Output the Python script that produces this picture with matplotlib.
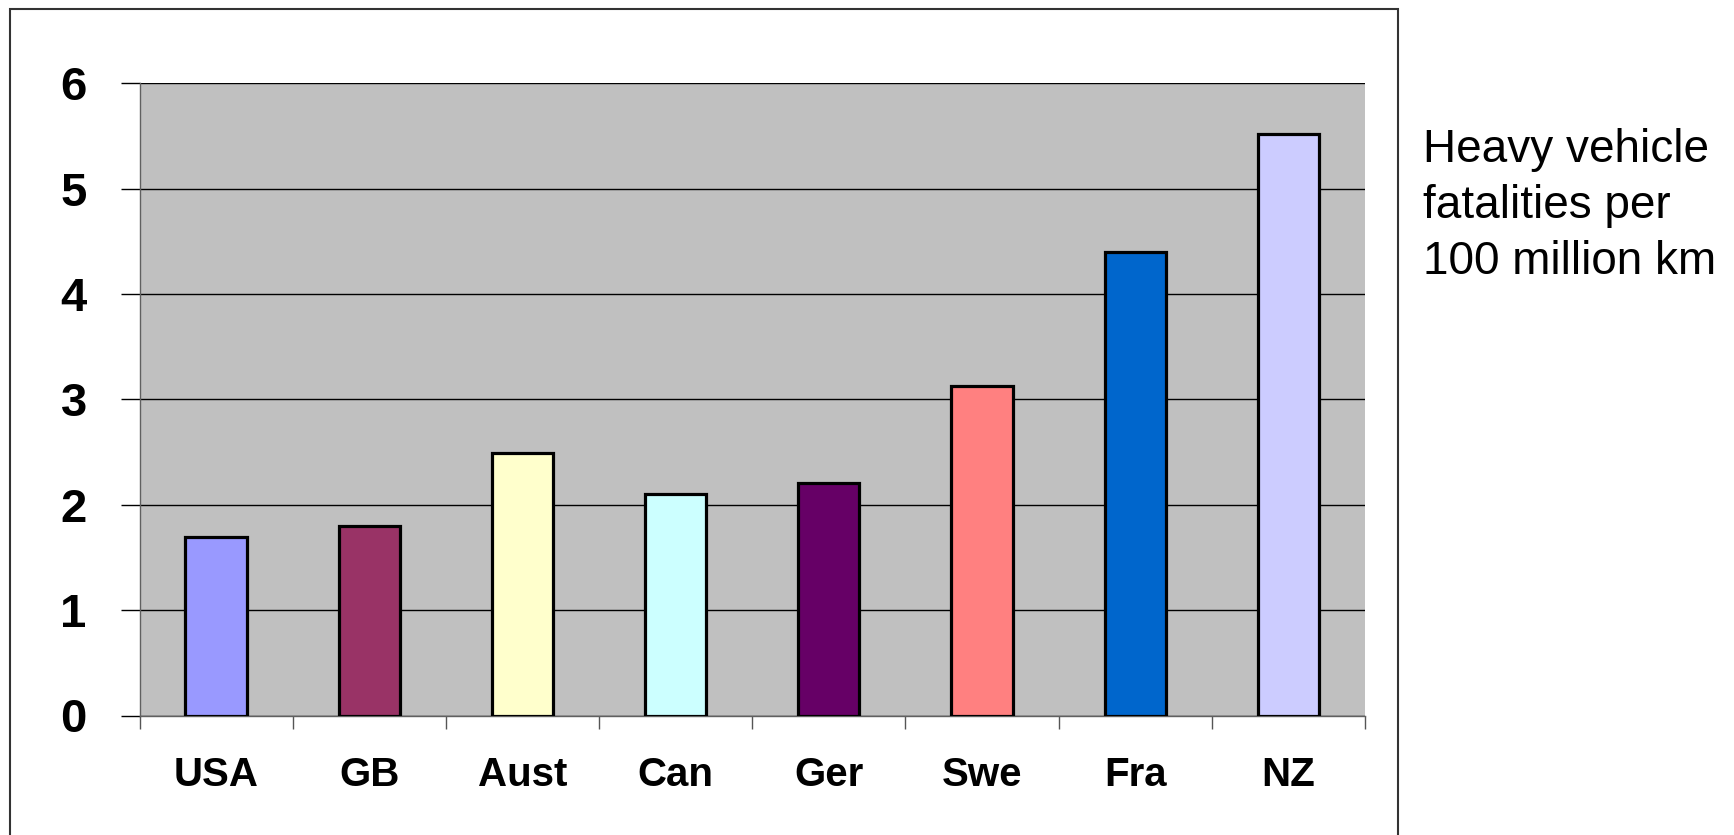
import matplotlib.pyplot as plt
import numpy as np
from matplotlib.patches import Rectangle

countries = ['USA', 'GB', 'Aust', 'Can', 'Ger', 'Swe', 'Fra', 'NZ']
fatalities = [1.69, 1.80, 2.49, 2.10, 2.21, 3.13, 4.40, 5.52]
colors = ['#9999FF', '#993366', '#FFFFCC', '#CCFFFF', '#660066', '#FF8080', '#0066CC', '#CCCCFF']
y_ticks = [0, 1, 2, 3, 4, 5, 6]
note = 'Heavy vehicle\nfatalities per\n100 million km'

W, H = 1734, 835
fig = plt.figure(figsize=(W / 100, H / 100), dpi=100)
fig.patch.set_facecolor('white')

# plot area in pixel coords: left 139, right 1365, top 83, bottom 715
ax = fig.add_axes([139.5 / W, 1 - 715.5 / H, (1365 - 139.5) / W, (715.5 - 83.3) / H])
ax.set_facecolor('#C0C0C0')

x = np.arange(len(countries))
ax.bar(x, fatalities, width=0.40, color=colors, edgecolor='black', linewidth=2.3, zorder=3)

ax.set_xlim(-0.5, len(countries) - 0.5)
ax.set_ylim(0, 6)
ax.set_yticks(y_ticks)
ax.set_yticklabels([str(t) for t in y_ticks], fontsize=34, fontweight='bold',
                   family='Liberation Sans')
ax.yaxis.grid(True, color='black', linewidth=1.0, zorder=1)
ax.set_axisbelow(True)

# category labels centred, tick marks on the boundaries
ax.set_xticks(x)
ax.set_xticklabels(countries, fontsize=29, fontweight='bold', family='Liberation Sans')
ax.set_xticks(np.arange(-0.5, len(countries)), minor=True)
ax.tick_params(axis='x', which='major', length=0, pad=29)
ax.tick_params(axis='x', which='minor', length=9, width=1, color='#555555', direction='out')
ax.tick_params(axis='y', length=14, width=1, color='black', pad=24)

for side in ['top', 'right']:
    ax.spines[side].set_visible(False)
ax.spines['left'].set_color('#606060')
ax.spines['bottom'].set_color('#606060')
ax.spines['left'].set_linewidth(1)
ax.spines['bottom'].set_linewidth(1)

# outer chart frame, open at the bottom edge
frame = Rectangle((10 / W, -0.05), (1398 - 10) / W, 1 - 9 / H + 0.05,
                  transform=fig.transFigure, fill=False, edgecolor='#333333',
                  linewidth=1.5)
fig.add_artist(frame)

fig.text(1423 / W, 1 - 128 / H, note, fontsize=33, family='Liberation Sans',
         va='top', ha='left', linespacing=1.36)

fig.savefig('out.png', dpi=100)
